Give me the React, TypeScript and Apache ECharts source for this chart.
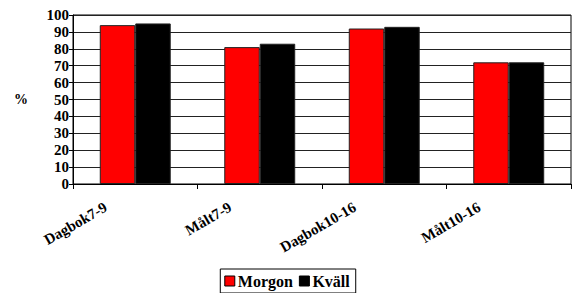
import React, { useEffect, useRef } from "react";
import * as echarts from "echarts";

const categories = ["Dagbok7-9", "Målt7-9", "Dagbok10-16", "Målt10-16"];
const morgon = [94, 81, 92, 72];
const kvall = [95, 83, 93, 72];
const seriesNames = ["Morgon", "Kväll"];

const FONT = "Liberation Serif, Times New Roman, serif";

export default function App() {
  const ref = useRef<HTMLDivElement>(null);
  useEffect(() => {
    if (!ref.current) return;
    const chart = echarts.init(ref.current, null, { renderer: "svg" });
    chart.setOption({
      animation: false,
      backgroundColor: "#fff",
      textStyle: { fontFamily: FONT },
      grid: { left: 73, right: 3, top: 15, bottom: 109, show: true, borderColor: "#000", borderWidth: 1 },
      legend: {
        data: seriesNames,
        bottom: 0,
        left: "center",
        icon: "rect",
        itemWidth: 10,
        itemHeight: 10,
        itemGap: 6,
        borderColor: "#000",
        borderWidth: 1,
        padding: [4, 6, 4, 4],
        textStyle: { fontFamily: FONT, fontWeight: "bold", fontSize: 16, color: "#000", padding: [0, 0, 0, -2] },
        itemStyle: { borderColor: "#000", borderWidth: 1 },
      },
      xAxis: {
        type: "category",
        data: categories,
        axisLine: { lineStyle: { color: "#000", width: 1 } },
        axisTick: { show: true, alignWithLabel: false, length: 5, lineStyle: { color: "#000" } },
        axisLabel: {
          rotate: 30,
          margin: 5,
          fontFamily: FONT,
          fontWeight: "bold",
          fontSize: 15,
          color: "#000",
          interval: 0,
          formatter: (v: string) => "{a|" + v + "}{s| }",
          rich: {
            a: { fontFamily: FONT, fontWeight: "bold", fontSize: 15, color: "#000" },
            s: { width: 34, fontSize: 15 },
          },
        },
      },
      yAxis: {
        type: "value",
        min: 0,
        max: 100,
        interval: 10,
        name: "%",
        nameLocation: "middle",
        nameRotate: 0,
        nameGap: 45,
        nameTextStyle: { fontFamily: FONT, fontWeight: "bold", fontSize: 14, color: "#000" },
        axisLine: { show: true, lineStyle: { color: "#000", width: 1 } },
        axisTick: { show: true, length: 4, lineStyle: { color: "#000" } },
        axisLabel: { fontFamily: FONT, fontWeight: "bold", fontSize: 15, color: "#000", margin: 4 },
        splitLine: { show: true, lineStyle: { color: "#222", width: 1 } },
      },
      series: [
        {
          name: seriesNames[0],
          type: "bar",
          data: morgon,
          barGap: "0%",
          barCategoryGap: "43%",
          itemStyle: { color: "#ff0000", borderColor: "#222", borderWidth: 1 },
        },
        {
          name: seriesNames[1],
          type: "bar",
          data: kvall,
          itemStyle: { color: "#000000", borderColor: "#222", borderWidth: 1 },
        },
      ],
    });
    return () => chart.dispose();
  }, []);
  return (
    <div
      ref={ref}
      style={{ position: "fixed", left: 0, top: 0, width: 574, height: 293 }}
    />
  );
}
